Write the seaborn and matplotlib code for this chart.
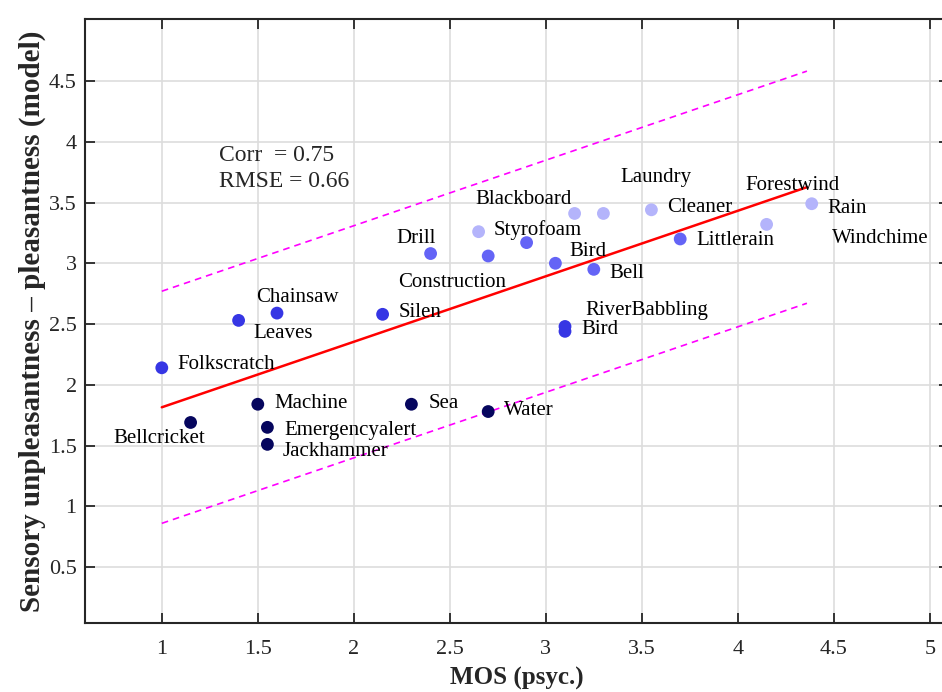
import numpy as np
import pandas as pd
import matplotlib
matplotlib.use("Agg")
import matplotlib.pyplot as plt
import seaborn as sns

# ---- data ----
names = ["Folkscratch", "Bellcricket", "Leaves", "Chainsaw", "Machine",
         "Emergencyalert", "Jackhammer", "Silen", "Sea", "Water",
         "RiverBabbling", "Bird",
         "Drill", "Construction", "Styrofoam", "Blackboard", "Bird", "Bell",
         "Laundry", "Windchime", "Cleaner", "Littlerain", "Forestwind", "Rain"]
mos = [1.00, 1.15, 1.40, 1.60, 1.50,
       1.55, 1.55, 2.15, 2.30, 2.70,
       3.10, 3.10,
       2.40, 2.70, 2.65, 2.90, 3.05, 3.25,
       3.15, 3.30, 3.55, 3.70, 4.15, 4.385]
model = [2.14, 1.69, 2.53, 2.59, 1.84,
         1.65, 1.51, 2.58, 1.84, 1.78,
         2.48, 2.44,
         3.08, 3.06, 3.26, 3.17, 3.00, 2.95,
         3.41, 3.41, 3.44, 3.20, 3.32, 3.49]
group = ["b", "n", "b", "b", "n",
         "n", "n", "b", "n", "n",
         "b", "b",
         "m", "m", "p", "m", "m", "m",
         "p", "p", "p", "m", "p", "p"]
fit_slope = 0.539
fit_intercept = 1.276
fit_x_range = [1.0, 4.36]
band_halfwidth = 0.955
corr_value = 0.75
rmse_value = 0.66
x_ticks = [1, 1.5, 2, 2.5, 3, 3.5, 4, 4.5, 5]
y_ticks = [0.5, 1, 1.5, 2, 2.5, 3, 3.5, 4, 4.5]

# label offsets (pixels, x right / y down) relative to each point
label_dx = [16, -77, 15, -21, 17, 17, 15, 16, 17, 16, 20, 16,
            -34, -90, 15, -51, 14, 16, 46, 229, 16, 16, -21, 16]
label_dy = [-3, 16, 13, -16, -1, 3, 7, -2, -1, -1, -16, -2,
            -15, 27, -2, -43, -12, 4, -36, 25, -2, 2, -39, 5]

df = pd.DataFrame({"name": names, "mos": mos, "model": model, "group": group})
palette = {"n": "#06065e", "b": "#3636e4", "m": "#6464f6", "p": "#b4b4fb"}

sns.set_style("white")
plt.rcParams["font.family"] = ["Liberation Serif", "DejaVu Serif"]

fig = plt.figure(figsize=(9.42, 6.92), dpi=100)
ax = fig.add_axes([85 / 942, 1 - 623 / 692, 864 / 942, (623 - 19) / 692])

ax.set_xlim(0.6, 5.1)
ax.set_ylim(0.04, 5.01)
ax.set_xticks(x_ticks)
ax.set_yticks(y_ticks)
ax.set_xticklabels([f"{t:g}" for t in x_ticks])
ax.set_yticklabels([f"{t:g}" for t in y_ticks])
ax.grid(True, color="#dddddd", lw=1.2, zorder=0)
ax.set_axisbelow(True)

xs = np.array(fit_x_range)
fit_y = fit_intercept + fit_slope * xs
ax.plot(xs, fit_y, color="#ff0000", lw=1.8, zorder=2)
ax.plot(xs, fit_y + band_halfwidth, color="#ff00ff", lw=1.2, ls=(0, (4, 3)), zorder=2)
ax.plot(xs, fit_y - band_halfwidth, color="#ff00ff", lw=1.2, ls=(0, (4, 3)), zorder=2)

sns.scatterplot(data=df, x="mos", y="model", hue="group", palette=palette,
                s=85, edgecolor="none", legend=False, ax=ax, zorder=3)

for n, x, y, dx, dy in zip(names, mos, model, label_dx, label_dy):
    ax.annotate(n, (x, y), xytext=(dx, -dy), textcoords="offset pixels",
                ha="left", va="center", fontsize=15, color="black", zorder=4)

ax.text(0.155, 0.792, f"Corr  = {corr_value:.2f}\nRMSE = {rmse_value:.2f}",
        transform=ax.transAxes, fontsize=17, ha="left", va="top",
        linespacing=1.33)

for s in ax.spines.values():
    s.set_visible(True)
    s.set_color("#262626")
    s.set_linewidth(1.5)
ax.tick_params(direction="in", length=7, width=1.3, color="#262626",
               top=True, right=True, bottom=True, left=True,
               labelsize=16)
ax.tick_params(axis="x", pad=12)
ax.tick_params(axis="y", pad=6)
ax.set_xlabel("MOS (psyc.)", fontsize=18, fontweight="bold", labelpad=6)
ax.set_ylabel("Sensory unpleasantness \u2013 pleasantness (model)",
              fontsize=21, fontweight="bold", labelpad=2)

fig.savefig("out.png", dpi=100)
